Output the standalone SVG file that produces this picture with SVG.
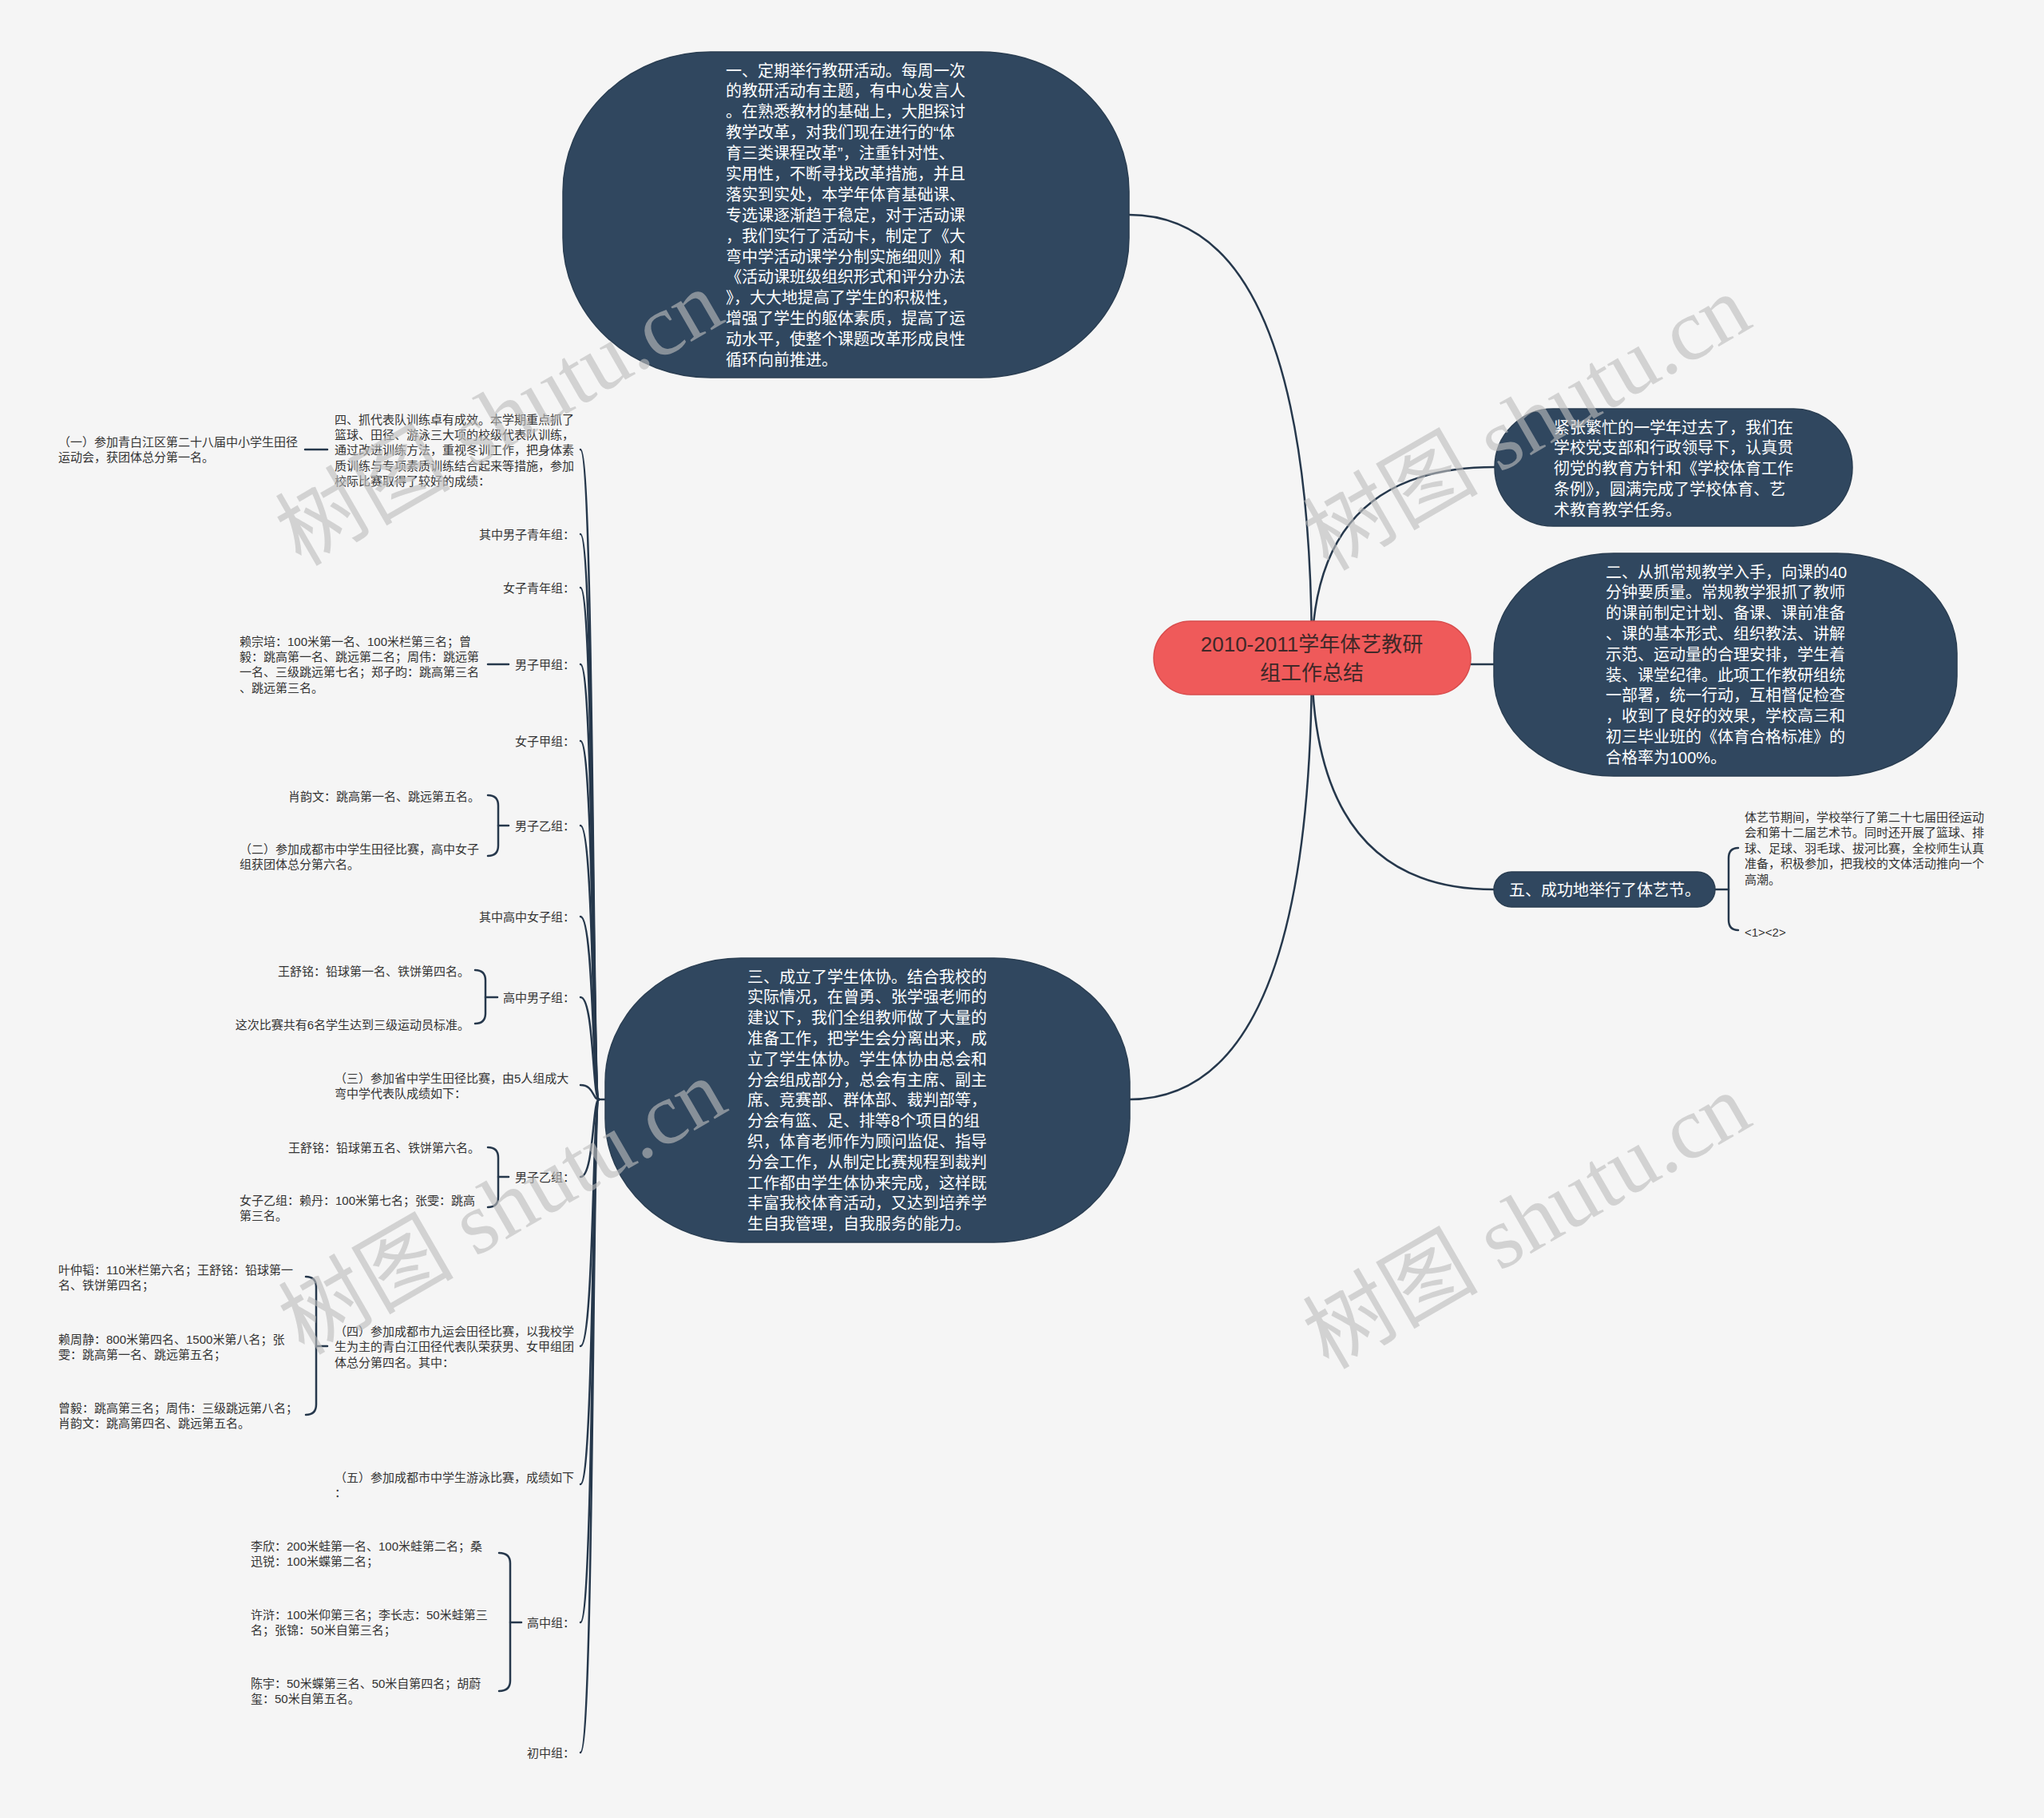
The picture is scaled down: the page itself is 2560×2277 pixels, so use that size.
<svg xmlns="http://www.w3.org/2000/svg" width="2560" height="2277" viewBox="0 0 2560 2277">
<style>
.bg{fill:#f5f5f5}
.dark{fill:#30475f;stroke:#2a3e52;stroke-width:1.5}
.root{fill:#ef5a5a;stroke:#d84c4c;stroke-width:1.5}
.conn{fill:none;stroke:#26384c;stroke-width:2.5;stroke-linecap:round}
.wt{font-family:"Liberation Sans","Noto Sans CJK SC",sans-serif;font-size:20px;fill:#ffffff}
.rt{font-family:"Liberation Sans","Noto Sans CJK SC",sans-serif;font-size:26px;fill:#402828}
.st{font-family:"Liberation Sans","Noto Sans CJK SC",sans-serif;font-size:15px;fill:#333333}
.wm{font-family:"Liberation Serif","Noto Sans CJK SC",serif;font-size:110px;fill:#bdbdbd;opacity:0.62}
</style>
<rect class="bg" x="0" y="0" width="2560" height="2277"/>

<g id="connectors">
<path class="conn" d="M1643 824 Q1643 269 1414 269"/>
<path class="conn" d="M1643 824 Q1643 585 1872 585"/>
<path class="conn" d="M1643 824 Q1643 832 1871 832"/>
<path class="conn" d="M1643 824 Q1643 1114 1871 1114"/>
<path class="conn" d="M1643 824 Q1643 1377 1414 1377"/>
<path class="conn" d="M2148 1114 L2165 1114"/>
<path class="conn" d="M2177 1062 Q2165 1062 2165 1075 L2165 1152 Q2165 1165 2177 1165"/>
<path class="conn" d="M758 1377 L750 1377"/>
<path class="conn" d="M750 1377 C742 1377 744 563 727 563"/>
<path class="conn" d="M750 1377 C742 1377 744 669 727 669"/>
<path class="conn" d="M750 1377 C742 1377 744 736 727 736"/>
<path class="conn" d="M750 1377 C742 1377 744 832 727 832"/>
<path class="conn" d="M750 1377 C742 1377 744 928 727 928"/>
<path class="conn" d="M750 1377 C742 1377 744 1034 727 1034"/>
<path class="conn" d="M750 1377 C742 1377 744 1148 727 1148"/>
<path class="conn" d="M750 1377 C742 1377 744 1249 727 1249"/>
<path class="conn" d="M750 1377 C742 1377 744 1359 727 1359"/>
<path class="conn" d="M750 1377 C742 1377 744 1474 727 1474"/>
<path class="conn" d="M750 1377 C742 1377 744 1686 727 1686"/>
<path class="conn" d="M750 1377 C742 1377 744 1859 727 1859"/>
<path class="conn" d="M750 1377 C742 1377 744 2032 727 2032"/>
<path class="conn" d="M750 1377 C742 1377 744 2195 727 2195"/>
<path class="conn" d="M382 563 L410 563"/>
<path class="conn" d="M611 832 L637 832"/>
<path class="conn" d="M611 996 Q624 996 624 1009 L624 1059 Q624 1072 611 1072"/>
<path class="conn" d="M624 1034 L637 1034"/>
<path class="conn" d="M595 1215 Q608 1215 608 1228 L608 1269 Q608 1282 595 1282"/>
<path class="conn" d="M608 1249 L623 1249"/>
<path class="conn" d="M611 1437 Q624 1437 624 1450 L624 1499 Q624 1512 611 1512"/>
<path class="conn" d="M624 1474 L637 1474"/>
<path class="conn" d="M383 1599 Q396 1599 396 1612 L396 1759 Q396 1772 383 1772"/>
<path class="conn" d="M396 1686 L410 1686"/>
<path class="conn" d="M625 1945 Q639 1945 639 1958 L639 2105 Q639 2118 625 2118"/>
<path class="conn" d="M639 2032 L653 2032"/>
</g>

<g id="root">
<rect class="root" x="1445" y="778" width="397" height="92" rx="46"/>
<text class="rt" text-anchor="middle"><tspan x="1643" y="816">2010-2011学年体艺教研</tspan><tspan x="1643" y="852">组工作总结</tspan></text>
</g>

<g id="node-1">
<rect class="dark" x="705" y="65" width="709" height="408" rx="185" ry="175"/>
<text class="wt"><tspan x="909" y="95.5">一、定期举行教研活动。每周一次</tspan><tspan x="909" dy="25.9">的教研活动有主题，有中心发言人</tspan><tspan x="909" dy="25.9">。在熟悉教材的基础上，大胆探讨</tspan><tspan x="909" dy="25.9">教学改革，对我们现在进行的“体</tspan><tspan x="909" dy="25.9">育三类课程改革”，注重针对性、</tspan><tspan x="909" dy="25.9">实用性，不断寻找改革措施，并且</tspan><tspan x="909" dy="25.9">落实到实处，本学年体育基础课、</tspan><tspan x="909" dy="25.9">专选课逐渐趋于稳定，对于活动课</tspan><tspan x="909" dy="25.9">，我们实行了活动卡，制定了《大</tspan><tspan x="909" dy="25.9">弯中学活动课学分制实施细则》和</tspan><tspan x="909" dy="25.9">《活动课班级组织形式和评分办法</tspan><tspan x="909" dy="25.9">》，大大地提高了学生的积极性，</tspan><tspan x="909" dy="25.9">增强了学生的躯体素质，提高了运</tspan><tspan x="909" dy="25.9">动水平，使整个课题改革形成良性</tspan><tspan x="909" dy="25.9">循环向前推进。</tspan></text>
</g>

<g id="node-intro">
<rect class="dark" x="1872" y="512" width="448" height="147" rx="73.5"/>
<text class="wt"><tspan x="1946" y="542.5">紧张繁忙的一学年过去了，我们在</tspan><tspan x="1946" dy="25.8">学校党支部和行政领导下，认真贯</tspan><tspan x="1946" dy="25.8">彻党的教育方针和《学校体育工作</tspan><tspan x="1946" dy="25.8">条例》，圆满完成了学校体育、艺</tspan><tspan x="1946" dy="25.8">术教育教学任务。</tspan></text>
</g>

<g id="node-2">
<rect class="dark" x="1871" y="693" width="580" height="279" rx="150" ry="125"/>
<text class="wt"><tspan x="2011" y="723.5">二、从抓常规教学入手，向课的40</tspan><tspan x="2011" dy="25.8">分钟要质量。常规教学狠抓了教师</tspan><tspan x="2011" dy="25.8">的课前制定计划、备课、课前准备</tspan><tspan x="2011" dy="25.8">、课的基本形式、组织教法、讲解</tspan><tspan x="2011" dy="25.8">示范、运动量的合理安排，学生着</tspan><tspan x="2011" dy="25.8">装、课堂纪律。此项工作教研组统</tspan><tspan x="2011" dy="25.8">一部署，统一行动，互相督促检查</tspan><tspan x="2011" dy="25.8">，收到了良好的效果，学校高三和</tspan><tspan x="2011" dy="25.8">初三毕业班的《体育合格标准》的</tspan><tspan x="2011" dy="25.8">合格率为100%。</tspan></text>
</g>

<g id="node-5">
<rect class="dark" x="1871" y="1092" width="277" height="44" rx="22"/>
<text class="wt" x="2010" y="1121.5" text-anchor="middle">五、成功地举行了体艺节。</text>
</g>
<g id="node-5-a">
<text class="st"><tspan x="2185" y="1028.5">体艺节期间，学校举行了第二十七届田径运动</tspan><tspan x="2185" dy="19.5">会和第十二届艺术节。同时还开展了篮球、排</tspan><tspan x="2185" dy="19.5">球、足球、羽毛球、拔河比赛，全校师生认真</tspan><tspan x="2185" dy="19.5">准备，积极参加，把我校的文体活动推向一个</tspan><tspan x="2185" dy="19.5">高潮。</tspan></text>
</g>
<g id="node-5-b">
<text class="st" x="2185" y="1172.5">&lt;1&gt;&lt;2&gt;</text>
</g>

<g id="node-3">
<rect class="dark" x="758" y="1200" width="657" height="356" rx="170" ry="155"/>
<text class="wt"><tspan x="936" y="1230.5">三、成立了学生体协。结合我校的</tspan><tspan x="936" dy="25.8">实际情况，在曾勇、张学强老师的</tspan><tspan x="936" dy="25.8">建议下，我们全组教师做了大量的</tspan><tspan x="936" dy="25.8">准备工作，把学生会分离出来，成</tspan><tspan x="936" dy="25.8">立了学生体协。学生体协由总会和</tspan><tspan x="936" dy="25.8">分会组成部分，总会有主席、副主</tspan><tspan x="936" dy="25.8">席、竞赛部、群体部、裁判部等，</tspan><tspan x="936" dy="25.8">分会有篮、足、排等8个项目的组</tspan><tspan x="936" dy="25.8">织，体育老师作为顾问监促、指导</tspan><tspan x="936" dy="25.8">分会工作，从制定比赛规程到裁判</tspan><tspan x="936" dy="25.8">工作都由学生体协来完成，这样既</tspan><tspan x="936" dy="25.8">丰富我校体育活动，又达到培养学</tspan><tspan x="936" dy="25.8">生自我管理，自我服务的能力。</tspan></text>
</g>

<g id="left-1">
<text class="st"><tspan x="419" y="530.5">四、抓代表队训练卓有成效。本学期重点抓了</tspan><tspan x="419" dy="19.4">篮球、田径、游泳三大项的校级代表队训练，</tspan><tspan x="419" dy="19.4">通过改进训练方法，重视冬训工作，把身体素</tspan><tspan x="419" dy="19.4">质训练与专项素质训练结合起来等措施，参加</tspan><tspan x="419" dy="19.4">校际比赛取得了较好的成绩：</tspan></text>
</g>
<g id="left-1-a">
<text class="st"><tspan x="73" y="558.5">（一）参加青白江区第二十八届中小学生田径</tspan><tspan x="73" dy="19.5">运动会，获团体总分第一名。</tspan></text>
</g>
<g id="left-2"><text class="st" x="720" y="674.5" text-anchor="end">其中男子青年组：</text></g>
<g id="left-3"><text class="st" x="720" y="741.5" text-anchor="end">女子青年组：</text></g>
<g id="left-4"><text class="st" x="720" y="837.5" text-anchor="end">男子甲组：</text></g>
<g id="left-4-a">
<text class="st"><tspan x="300" y="808.5">赖宗培：100米第一名、100米栏第三名；曾</tspan><tspan x="300" dy="19.4">毅：跳高第一名、跳远第二名；周伟：跳远第</tspan><tspan x="300" dy="19.4">一名、三级跳远第七名；郑子昀：跳高第三名</tspan><tspan x="300" dy="19.4">、跳远第三名。</tspan></text>
</g>
<g id="left-5"><text class="st" x="720" y="933.5" text-anchor="end">女子甲组：</text></g>
<g id="left-6"><text class="st" x="720" y="1039.5" text-anchor="end">男子乙组：</text></g>
<g id="left-6-a"><text class="st" x="601" y="1002.5" text-anchor="end">肖韵文：跳高第一名、跳远第五名。</text></g>
<g id="left-6-b">
<text class="st"><tspan x="300" y="1068.5">（二）参加成都市中学生田径比赛，高中女子</tspan><tspan x="300" dy="19.5">组获团体总分第六名。</tspan></text>
</g>
<g id="left-7"><text class="st" x="720" y="1153.5" text-anchor="end">其中高中女子组：</text></g>
<g id="left-8"><text class="st" x="720" y="1254.5" text-anchor="end">高中男子组：</text></g>
<g id="left-8-a"><text class="st" x="588" y="1221.5" text-anchor="end">王舒铭：铅球第一名、铁饼第四名。</text></g>
<g id="left-8-b"><text class="st" x="588" y="1288.5" text-anchor="end">这次比赛共有6名学生达到三级运动员标准。</text></g>
<g id="left-9">
<text class="st"><tspan x="419" y="1355.5">（三）参加省中学生田径比赛，由5人组成大</tspan><tspan x="419" dy="19.5">弯中学代表队成绩如下：</tspan></text>
</g>
<g id="left-10"><text class="st" x="720" y="1479.5" text-anchor="end">男子乙组：</text></g>
<g id="left-10-a"><text class="st" x="601" y="1442.5" text-anchor="end">王舒铭：铅球第五名、铁饼第六名。</text></g>
<g id="left-10-b">
<text class="st"><tspan x="300" y="1508.5">女子乙组：赖丹：100米第七名；张雯：跳高</tspan><tspan x="300" dy="19.5">第三名。</tspan></text>
</g>
<g id="left-11">
<text class="st"><tspan x="419" y="1672.5">（四）参加成都市九运会田径比赛，以我校学</tspan><tspan x="419" dy="19.5">生为主的青白江田径代表队荣获男、女甲组团</tspan><tspan x="419" dy="19.5">体总分第四名。其中：</tspan></text>
</g>
<g id="left-11-a">
<text class="st"><tspan x="73" y="1595.5">叶仲韬：110米栏第六名；王舒铭：铅球第一</tspan><tspan x="73" dy="19.5">名、铁饼第四名；</tspan></text>
</g>
<g id="left-11-b">
<text class="st"><tspan x="73" y="1682.5">赖周静：800米第四名、1500米第八名；张</tspan><tspan x="73" dy="19.5">雯：跳高第一名、跳远第五名；</tspan></text>
</g>
<g id="left-11-c">
<text class="st"><tspan x="73" y="1768.5">曾毅：跳高第三名；周伟：三级跳远第八名；</tspan><tspan x="73" dy="19.5">肖韵文：跳高第四名、跳远第五名。</tspan></text>
</g>
<g id="left-12">
<text class="st"><tspan x="419" y="1855.5">（五）参加成都市中学生游泳比赛，成绩如下</tspan><tspan x="419" dy="19.5">：</tspan></text>
</g>
<g id="left-13"><text class="st" x="720" y="2037.5" text-anchor="end">高中组：</text></g>
<g id="left-13-a">
<text class="st"><tspan x="314" y="1941.5">李欣：200米蛙第一名、100米蛙第二名；桑</tspan><tspan x="314" dy="19.5">迅锐：100米蝶第二名；</tspan></text>
</g>
<g id="left-13-b">
<text class="st"><tspan x="314" y="2027.5">许浒：100米仰第三名；李长志：50米蛙第三</tspan><tspan x="314" dy="19.5">名；张锦：50米自第三名；</tspan></text>
</g>
<g id="left-13-c">
<text class="st"><tspan x="314" y="2113.5">陈宇：50米蝶第三名、50米自第四名；胡蔚</tspan><tspan x="314" dy="19.5">玺：50米自第五名。</tspan></text>
</g>
<g id="left-14"><text class="st" x="720" y="2200.5" text-anchor="end">初中组：</text></g>

<g id="watermarks">
<text class="wm" x="629" y="560" text-anchor="middle" transform="rotate(-30 629 530)">树图 shutu.cn</text>
<text class="wm" x="1916" y="566" text-anchor="middle" transform="rotate(-30 1916 536)">树图 shutu.cn</text>
<text class="wm" x="633" y="1548" text-anchor="middle" transform="rotate(-30 633 1518)">树图 shutu.cn</text>
<text class="wm" x="1916" y="1566" text-anchor="middle" transform="rotate(-30 1916 1536)">树图 shutu.cn</text>
</g>
</svg>
